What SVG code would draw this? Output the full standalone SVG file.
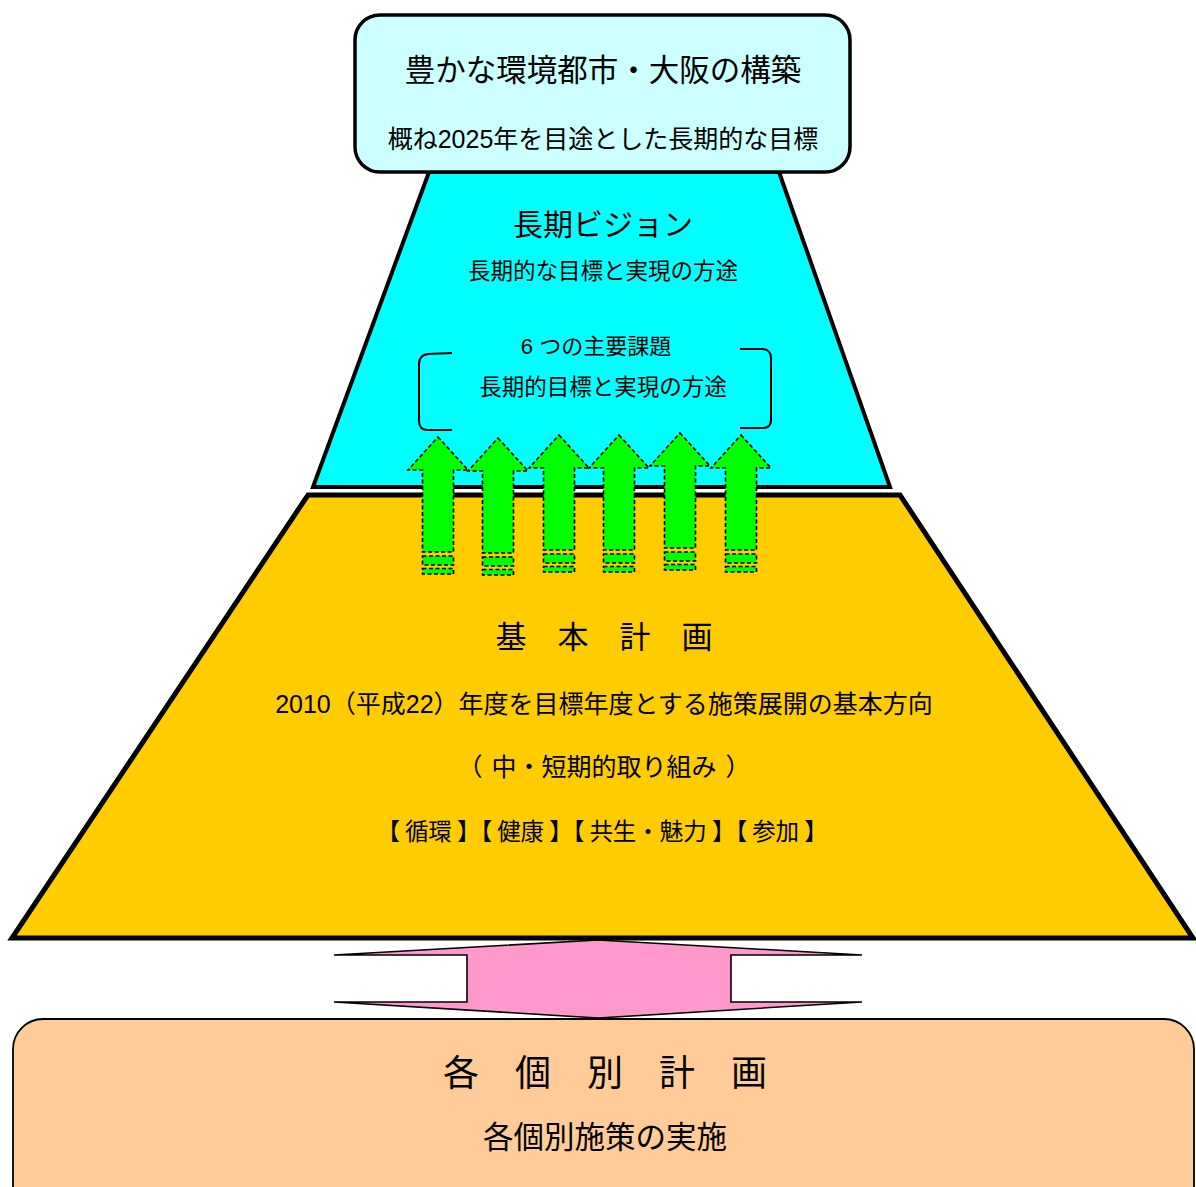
<svg xmlns="http://www.w3.org/2000/svg" width="1196" height="1187" viewBox="0 0 1196 1187">
<style>
.t{font-family:"Liberation Sans","Noto Sans CJK JP",sans-serif;fill:#000;text-anchor:middle}
.ga{fill:#00FF00;stroke:#000;stroke-width:1.6;stroke-dasharray:4 2.5}
</style>
<defs>
<g id="arrow">
<path d="M0,0 L30,33 L15.5,33 L15.5,115 L-15.5,115 L-15.5,33 L-30,33 Z"/>
<rect x="-15.5" y="119" width="31" height="9"/>
<rect x="-15.5" y="131.5" width="31" height="5.5"/>
</g>
</defs>
<rect width="1196" height="1187" fill="#fff"/>
<g id="vision">
<polygon points="429,172 779,172 890,487 313,487" fill="#00FFFF" stroke="#000" stroke-width="4"/>
<text class="t" x="603" y="235" font-size="30">長期ビジョン</text>
<text class="t" x="603" y="279" font-size="22.5">長期的な目標と実現の方途</text>
<text class="t" x="596" y="354" font-size="22">6 つの主要課題</text>
<text class="t" x="603" y="395" font-size="22.5">長期的目標と実現の方途</text>
<path d="M452,353 L428,354 Q419,355 419,364 L419,421 Q419,430 428,430 L452,430" fill="none" stroke="#000" stroke-width="2"/>
<path d="M740,349 L763,349 Q771,350 771,358 L771,420 Q771,428 763,428 L740,428" fill="none" stroke="#000" stroke-width="2"/>
</g>
<g id="plan">
<polygon points="308,495 900,495 1193,938 12,938" fill="#FFCC00" stroke="#000" stroke-width="5" stroke-linejoin="miter"/>
<text class="t" x="604" y="648" font-size="31">基　本　計　画</text>
<text class="t" x="604" y="713" font-size="25">2010（平成22）年度を目標年度とする施策展開の基本方向</text>
<text class="t" x="604" y="776" font-size="25">（<tspan dx="9">中・短期的取り組み</tspan><tspan dx="9">）</tspan></text>
<text class="t" x="602" y="840" font-size="23.5">【<tspan dx="5">循環</tspan><tspan dx="5">】</tspan>【<tspan dx="5">健康</tspan><tspan dx="5">】</tspan>【<tspan dx="5">共生・魅力</tspan><tspan dx="5">】</tspan>【<tspan dx="5">参加</tspan><tspan dx="5">】</tspan></text>
</g>
<g id="goal">
<rect x="355" y="15" width="495" height="157" rx="25" ry="25" fill="#CCFFFF" stroke="#000" stroke-width="3.5"/>
<text class="t" x="603" y="81" font-size="30.5">豊かな環境都市・大阪の構築</text>
<text class="t" x="603" y="148" font-size="25">概ね2025年を目途とした長期的な目標</text>
</g>
<g id="individual">
<rect x="13" y="1019" width="1181" height="220" rx="30" ry="30" fill="#FFCC99" stroke="#000" stroke-width="1.8"/>
<text class="t" x="605" y="1086" font-size="36">各　個　別　計　画</text>
<text class="t" x="605" y="1148" font-size="30.5">各個別施策の実施</text>
</g>
<g id="connectors">
<g class="ga">
<use href="#arrow" transform="translate(438,437)"/>
<use href="#arrow" transform="translate(498,438)"/>
<use href="#arrow" transform="translate(559,435)"/>
<use href="#arrow" transform="translate(619,435)"/>
<use href="#arrow" transform="translate(680,433)"/>
<use href="#arrow" transform="translate(741,435)"/>
</g>
<polygon points="598,940 862,955 731,955 731,1002 862,1002 598,1018 334,1002 467,1002 467,955 334,955" fill="#FF99CC" stroke="#000" stroke-width="1.6" stroke-linejoin="miter"/>
</g>
</svg>
